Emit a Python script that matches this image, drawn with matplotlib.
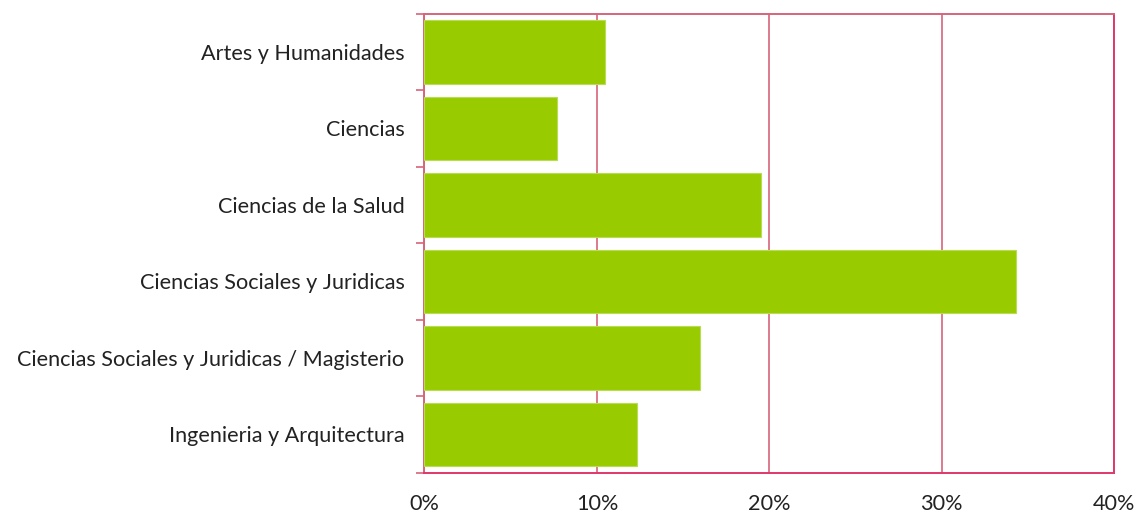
import matplotlib.pyplot as plt
from matplotlib.ticker import FuncFormatter, FixedLocator

categories = ["Artes y Humanidades", "Ciencias", "Ciencias de la Salud",
              "Ciencias Sociales y Juridicas",
              "Ciencias Sociales y Juridicas / Magisterio",
              "Ingenieria y Arquitectura"]
values = [10.45, 7.67, 19.5, 34.3, 16.0, 12.34]
xticks = [0, 10, 20, 30, 40]

plt.rcParams['font.family'] = ['Lato', 'DejaVu Sans']
red = '#D6657A'

fig = plt.figure(figsize=(11.38, 5.13), dpi=100)
ax = fig.add_axes([0.373, 0.0786, 0.606, 0.895])

pos = list(range(len(categories)))[::-1]
ax.barh(pos, values, height=0.83, color='#99CC00', edgecolor='#B8DC55',
        linewidth=0.8, zorder=3)

ax.set_xlim(0, 40)
ax.set_ylim(-0.5, len(categories) - 0.5)
ax.set_xticks(xticks)
ax.xaxis.set_major_formatter(FuncFormatter(lambda v, p: f"{v:.0f}%"))
ax.grid(axis='x', color=red, linewidth=1.2, zorder=1)

ax.set_yticks(pos)
ax.set_yticklabels(categories)
ax.yaxis.set_minor_locator(FixedLocator([p - 0.5 for p in range(len(categories) + 1)]))
ax.tick_params(axis='y', which='major', length=0, pad=14.4, labelsize=15.6, colors='#222222')
ax.tick_params(axis='y', which='minor', length=6, width=1.2, color=red)
ax.tick_params(axis='x', length=0, pad=15, labelsize=15.6, colors='#222222')

for s in ax.spines.values():
    s.set_color(red)
    s.set_linewidth(1.4)
ax.spines['right'].set_color('#E0386A')
ax.spines['bottom'].set_color('#E0386A')

fig.savefig('out.png', dpi=100)
